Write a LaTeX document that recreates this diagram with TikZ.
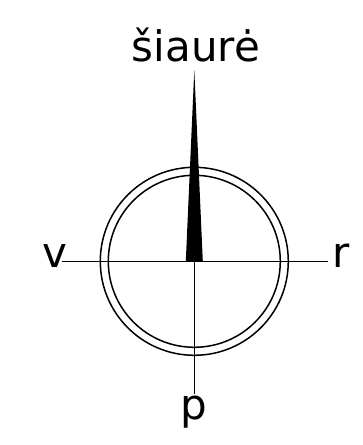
\documentclass[tikz,border=0pt]{standalone}
\usepackage{fontspec}
\setmainfont{DejaVu Sans}
\tikzset{
    compass line/.style={line width=1.5pt},
    side label/.style={anchor=base, inner sep=0pt, font=\fontsize{42}{42}\selectfont}
}

\begin{document}
\begin{tikzpicture}[x=1pt, y=1pt]
    \useasboundingbox (-194.3, -183.7) rectangle (167.7, 261.3);

    \coordinate (center) at (0, 0);
    \coordinate (tip) at (0, 191.3);
    \coordinate (baseL) at (-8.5, 0);
    \coordinate (baseR) at (8.5, 0);
    \coordinate (west) at (-132.6, 0);
    \coordinate (east) at (133.4, 0);
    \coordinate (south) at (0, -132.7);

    \draw[compass line] (center) circle (94);
    \draw[compass line] (center) circle (86);
    \draw[compass line] (west) -- (east);
    \draw[compass line] (center) -- (south);
    \fill (baseL) -- (tip) -- (baseR) -- cycle;

    \node [side label] (north label) at (2, 199.6) {šiaurė};
    \node [side label] (west label) at (-139, -6) {v};
    \node [side label] (east label) at (146.5, -6) {r};
    \node [side label] (south label) at (0, -158) {p};
\end{tikzpicture}
\end{document}
